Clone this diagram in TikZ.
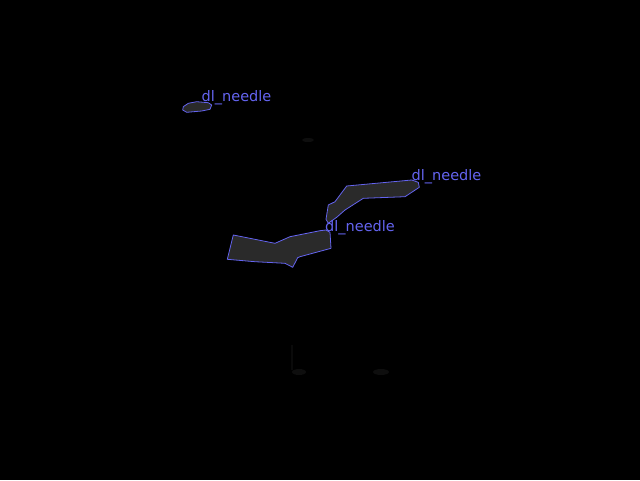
\documentclass[tikz,border=0pt]{standalone}
\usepackage{fontspec}
\setmainfont{DejaVu Sans}
\usepackage{xcolor}
\usepackage{tikz}
\usetikzlibrary{positioning}

\definecolor{outline}{RGB}{100,100,240}
\definecolor{needlefill}{RGB}{42,42,42}
\definecolor{faint}{RGB}{14,14,14}

\begin{document}
\begin{tikzpicture}[x=1pt, y=-1pt,
    needle/.style={draw=outline, fill=needlefill, line width=0.8pt, line join=round},
    tag/.style={anchor=base west, inner sep=0pt, text=outline, font=\fontsize{14.5}{14.5}\selectfont}]
    % Background
    \fill[black] (0,0) rectangle (640,480);
    \useasboundingbox (0,0) rectangle (640,480);

    % Faint spots
    \fill[faint] (308,140) ellipse (6 and 2);
    \fill[faint] (299,372) ellipse (7 and 3);
    \fill[faint] (381,372) ellipse (8 and 3);
    \fill[faint!70!black] (290.5,345) rectangle (293,370);

    % Polygons
    \draw[needle] (183.3,106.7) -- (188.3,103.3) -- (196.7,101.7) -- (208.3,102.7) -- (211.7,105)
        -- (210,109.3) -- (201.7,111) -- (186.7,112.3) -- (182.7,110) -- cycle;
    \draw[needle] (346.7,186) -- (411.7,180) -- (418.3,182.3) -- (419.3,187.3) -- (405,196.7)
        -- (363.3,198.3) -- (345,210) -- (336.7,217.3) -- (328.3,223.3) -- (326,219.3)
        -- (328.3,205) -- (335,201.7) -- cycle;
    \draw[needle] (233.3,235) -- (275,243.3) -- (290,236.7) -- (320,230.7) -- (326,230)
        -- (330,232.3) -- (331,248.3) -- (300,256.7) -- (297.7,257.7) -- (292.7,267.3)
        -- (285,263.3) -- (255,261.7) -- (227.3,259.3) -- cycle;

    % Labels
    \node (small) [tag] at (201.5,101) {dl\_needle};
    \node (upper) [tag] at (411.5,180) {dl\_needle};
    \node (lower) [tag] at (325,231) {dl\_needle};
\end{tikzpicture}
\end{document}
